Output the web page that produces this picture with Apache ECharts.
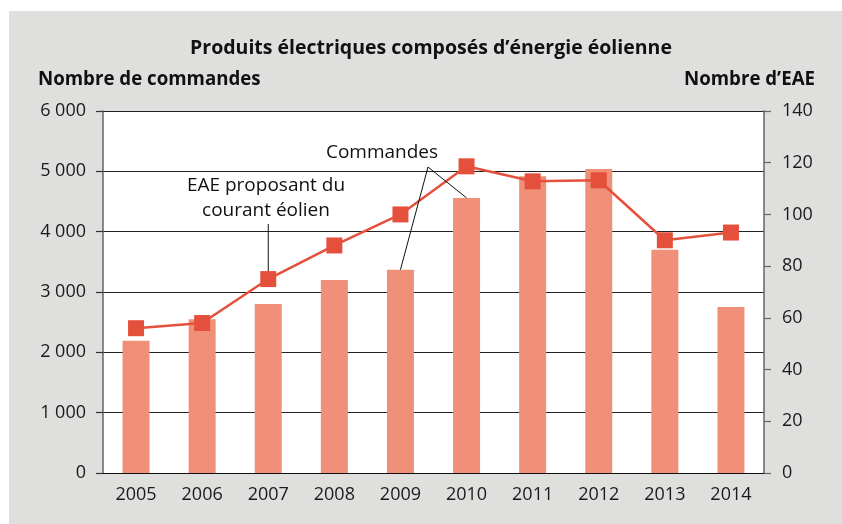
<!DOCTYPE html>
<html>
<head>
<meta charset="utf-8">
<script src="https://cdn.jsdelivr.net/npm/echarts@6/dist/echarts.min.js"></script>
<style>
	html, body { margin: 0; padding: 0; background: #ffffff; }
	#chart { width: 842px; height: 524px; }
</style>
</head>
<body>
<div id="chart"></div>
<script>
// données
const years = ['2005', '2006', '2007', '2008', '2009', '2010', '2011', '2012', '2013', '2014'];
const commandes = [2190, 2550, 2800, 3200, 3370, 4560, 4920, 5040, 3700, 2750];
const nbEAE = [56, 58, 75, 88, 100, 118.6, 112.8, 113.2, 90, 93];
const leftTicks = ['0', '1 000', '2 000', '3 000', '4 000', '5 000', '6 000'];

const FONT = '"Open Sans", "Noto Sans", sans-serif';
const TXT = '#1a1a1a';

const myChart = echarts.init(document.getElementById('chart'));

let option = {
	backgroundColor: '#ffffff',
	animation: false,
	textStyle: { fontFamily: FONT },
	grid: {
		left: 103, right: 78, top: 111, bottom: 51,
		show: true, backgroundColor: '#ffffff', borderWidth: 0
	},
	xAxis: {
		type: 'category',
		data: years,
		axisLine: { lineStyle: { color: '#111', width: 1.2 } },
		axisTick: { show: false },
		axisLabel: { color: TXT, fontSize: 18, margin: 13, fontFamily: FONT }
	},
	yAxis: [{
		type: 'value',
		min: 0, max: 6000, interval: 1000,
		axisLine: { show: true, lineStyle: { color: '#666', width: 1.5 } },
		axisTick: { show: true, length: 7, lineStyle: { color: '#333', width: 1.2 } },
		axisLabel: {
			color: TXT, fontSize: 18, margin: 17, fontFamily: FONT,
			formatter: function(v) { return leftTicks[v / 1000]; }
		},
		splitLine: { lineStyle: { color: '#222', width: 1.2 } }
	}, {
		type: 'value',
		min: 0, max: 140, interval: 20,
		position: 'right',
		axisLine: { show: true, lineStyle: { color: '#666', width: 1.5 } },
		axisTick: { show: true, length: 7, lineStyle: { color: '#666', width: 1.2 } },
		axisLabel: { color: TXT, fontSize: 18, margin: 18, fontFamily: FONT },
		splitLine: { show: false }
	}],
	series: [{
		name: 'Commandes',
		type: 'bar',
		data: commandes,
		barWidth: 27,
		itemStyle: { color: '#f09078' },
		z: 2
	}, {
		name: 'EAE',
		type: 'line',
		yAxisIndex: 1,
		data: nbEAE,
		symbol: 'rect',
		symbolSize: 16,
		lineStyle: { color: '#e5503c', width: 2.5 },
		itemStyle: { color: '#e5503c' },
		z: 4
	}]
};

myChart.setOption(option);

// fond gris, titres et annotations
function px(cat, val, axis) {
	return myChart.convertToPixel({ xAxisIndex: 0, yAxisIndex: axis }, [cat, val]);
}

const p2009 = px(years[4], commandes[4], 0);
const p2010 = px(years[5], commandes[5], 0);
const p2007 = px(years[2], nbEAE[2], 1);
const apex = [428, 167];

myChart.setOption({
	graphic: [
		{ type: 'rect', z: -10, silent: true, shape: { x: 9, y: 11, width: 833, height: 513 }, style: { fill: '#dfdfde' } },
		{ type: 'text', x: 431, y: 48, style: { text: 'Produits électriques composés d\u2019énergie éolienne', font: 'bold 19.5px ' + FONT, fill: '#111', align: 'center', verticalAlign: 'middle' } },
		{ type: 'text', x: 38, y: 80, style: { text: 'Nombre de commandes', font: 'bold 18.7px ' + FONT, fill: '#111', align: 'left', verticalAlign: 'middle' } },
		{ type: 'text', x: 815, y: 80, style: { text: 'Nombre d\u2019EAE', font: 'bold 18.7px ' + FONT, fill: '#111', align: 'right', verticalAlign: 'middle' } },
		{ type: 'text', x: 382, y: 153, z: 10, style: { text: 'Commandes', font: '19px ' + FONT, fill: '#111', align: 'center', verticalAlign: 'middle' } },
		{ type: 'polyline', z: 10, shape: { points: [[p2009[0], p2009[1]], apex, [p2010[0], p2010[1]]] }, style: { stroke: '#111', lineWidth: 1, fill: null } },
		{ type: 'text', x: 266, y: 198, z: 10, style: { text: 'EAE proposant du\ncourant éolien', font: '19px ' + FONT, lineHeight: 25, fill: '#111', align: 'center', verticalAlign: 'middle' } },
		{ type: 'line', z: 1, shape: { x1: p2007[0], y1: 224, x2: p2007[0], y2: p2007[1] }, style: { stroke: '#111', lineWidth: 1 } }
	]
});
</script>
</body>
</html>
